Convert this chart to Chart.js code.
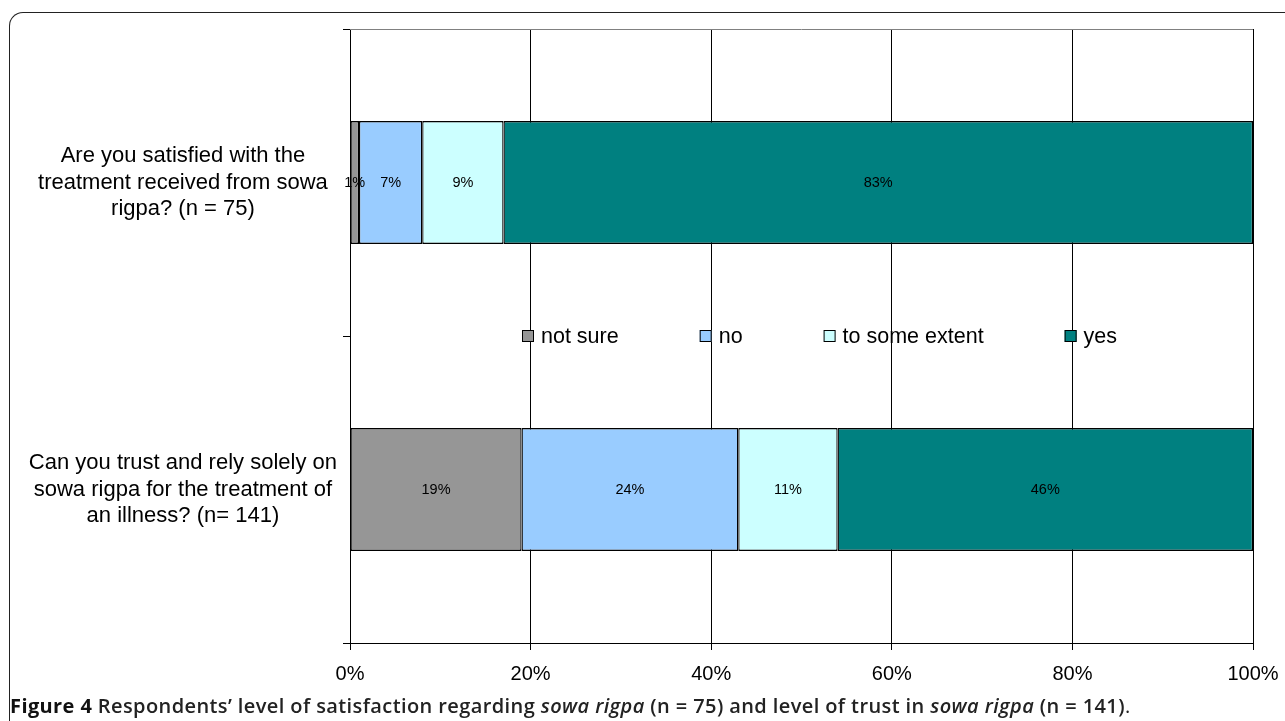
<!DOCTYPE html>
<html>
<head>
<meta charset="utf-8">
<title>Satisfaction and trust in sowa rigpa</title>
<script src="https://cdn.jsdelivr.net/npm/chart.js@4/dist/chart.umd.min.js"></script>
<style>
  html, body { margin: 0; padding: 0; background: #fff; overflow: hidden; width: 1285px; height: 721px; }
  #frame { position: absolute; left: 9px; top: 12px; width: 1320px; height: 800px;
           border-top: 1px solid #222; border-left: 1px solid #222; border-top-left-radius: 14px; }
  #wrap { position: absolute; left: 0; top: 0; width: 1285px; height: 721px; }
  #caption { position: absolute; left: 10px; top: 695px; font-family: 'Open Sans', sans-serif;
             font-size: 20px; line-height: 22px; font-weight: 600; color: #222; white-space: nowrap; letter-spacing: 0.4px; }
  #caption b { font-weight: 700; color: #111; }
  #caption .end { font-weight: 400; }
</style>
</head>
<body>
<div id="frame"></div>
<div id="wrap"><canvas id="c"></canvas></div>
<div id="caption"><b>Figure 4</b> Respondents’ level of satisfaction regarding <i>sowa rigpa</i> (n = 75) and level of trust in <i>sowa rigpa</i> (n = 141)<span class="end">.</span></div>
<script>
// Survey questions (one bar each)
const categories = [
  ['Are you satisfied with the', 'treatment received from sowa', 'rigpa? (n = 75)'],
  ['Can you trust and rely solely on', 'sowa rigpa for the treatment of', 'an illness? (n= 141)']
];

// Answer groups, percentages per question
const seriesNames = ['not sure', 'no', 'to some extent', 'yes'];
const notSure    = [1, 19];
const no         = [7, 24];
const someExtent = [9, 11];
const yes        = [83, 46];

const seriesColors = ['#969696', '#99CCFF', '#CCFFFF', '#008080'];
const xTickLabels = ['0%', '20%', '40%', '60%', '80%', '100%'];

const seriesValues = [notSure, no, someExtent, yes];
const datasets = seriesNames.map((name, i) => ({
  label: name,
  data: seriesValues[i],
  backgroundColor: seriesColors[i],
  borderColor: '#000',
  borderWidth: 1.3,
  borderSkipped: false,
  categoryPercentage: 0.4,
  barPercentage: 1.0
}));

// Thin grey frame line along the top of the plot area
const plotFrame = {
  id: 'plotFrame',
  beforeDatasetsDraw(chart) {
    const { ctx, chartArea } = chart;
    ctx.save();
    ctx.strokeStyle = '#808080';
    ctx.lineWidth = 1;
    const y = Math.round(chartArea.top) + 0.5;
    ctx.beginPath();
    ctx.moveTo(chartArea.left, y);
    ctx.lineTo(chartArea.right, y);
    ctx.stroke();
    ctx.restore();
  }
};

// Percentage text centred inside each segment
const segmentLabels = {
  id: 'segmentLabels',
  afterDatasetsDraw(chart) {
    const { ctx } = chart;
    ctx.save();
    ctx.font = '14.5px "Liberation Sans", Arial, sans-serif';
    ctx.fillStyle = '#000';
    ctx.textAlign = 'center';
    ctx.textBaseline = 'middle';
    chart.data.datasets.forEach((ds, di) => {
      const meta = chart.getDatasetMeta(di);
      meta.data.forEach((el, i) => {
        const p = el.getCenterPoint();
        ctx.fillText(ds.data[i] + '%', p.x, p.y);
      });
    });
    ctx.restore();
  }
};

// Legend row drawn between the two bars
const midLegend = {
  id: 'midLegend',
  afterDatasetsDraw(chart) {
    const { ctx, chartArea } = chart;
    const yScale = chart.scales.y;
    const yMid = (yScale.getPixelForValue(0) + yScale.getPixelForValue(1)) / 2;
    const box = 12, textGap = 7, itemGap = 81;
    ctx.save();
    ctx.font = '21.5px "Liberation Sans", Arial, sans-serif';
    const items = chart.data.datasets.map(ds => ({
      text: ds.label,
      color: ds.backgroundColor,
      w: box + textGap + ctx.measureText(ds.label).width
    }));
    const total = items.reduce((s, it) => s + it.w, 0) + itemGap * (items.length - 1);
    let x = Math.round((chartArea.left + chartArea.right) / 2 + 18 - total / 2);
    ctx.textBaseline = 'middle';
    ctx.textAlign = 'left';
    items.forEach(it => {
      const by = Math.round(yMid - box / 2);
      ctx.fillStyle = it.color;
      ctx.fillRect(x, by, box, box);
      ctx.strokeStyle = '#000';
      ctx.lineWidth = 1;
      ctx.strokeRect(x + 0.5, by + 0.5, box - 1, box - 1);
      ctx.fillStyle = '#000';
      ctx.fillText(it.text, x + box + textGap, yMid + 1);
      x += it.w + itemGap;
    });
    ctx.restore();
  }
};

new Chart(document.getElementById('c'), {
  type: 'bar',
  data: { labels: categories, datasets },
  plugins: [plotFrame, segmentLabels, midLegend],
  options: {
    indexAxis: 'y',
    responsive: true,
    maintainAspectRatio: false,
    animation: false,
    events: [],
    layout: { padding: { top: 29, right: 32, bottom: 23, left: 0 } },
    plugins: { legend: { display: false }, tooltip: { enabled: false } },
    scales: {
      x: {
        stacked: true,
        min: 0,
        max: 100,
        ticks: {
          stepSize: 20,
          padding: 12,
          color: '#000',
          font: { family: '"Liberation Sans", Arial, sans-serif', size: 20 },
          callback: (v, i) => xTickLabels[i]
        },
        grid: { color: '#000', lineWidth: 1, tickLength: 7, drawTicks: true },
        border: { color: '#000', width: 1 },
        afterFit: s => { s.paddingLeft = 0; s.paddingRight = 0; }
      },
      y: {
        stacked: true,
        offset: true,
        grid: { offset: true, drawOnChartArea: false, drawTicks: true, tickLength: 7, color: '#000', lineWidth: 1 },
        border: { color: '#000', width: 1 },
        ticks: {
          crossAlign: 'center',
          padding: 6,
          color: '#000',
          font: { family: '"Liberation Sans", Arial, sans-serif', size: 22, lineHeight: 1.21 }
        },
        afterFit: s => { s.width = 350; s.paddingTop = 0; s.paddingBottom = 0; }
      }
    }
  }
});
</script>
</body>
</html>
